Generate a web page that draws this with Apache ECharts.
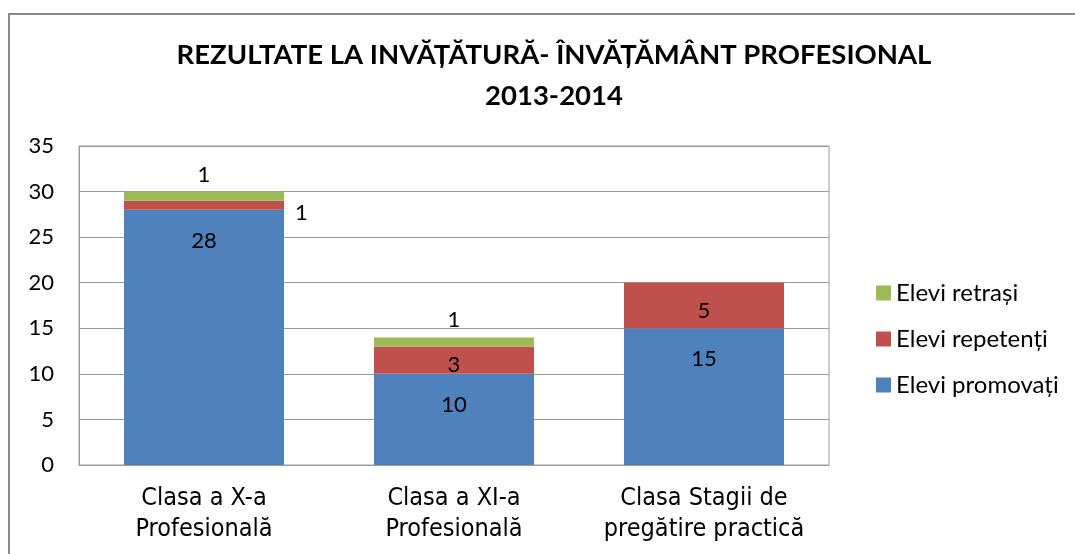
<!DOCTYPE html>
<html>
<head>
    <meta charset="utf-8">
    <title>Rezultate la invatatura</title>
    <style>
        html, body { margin: 0; padding: 0; background: #fff; }
        #container { width: 1075px; height: 554px; }
    </style>
</head>
<body>
<div id="container"></div>
<script src="https://cdn.jsdelivr.net/npm/echarts@6/dist/echarts.min.js"></script>
<script type="text/javascript">
    var categories = ['Clasa a X-a\nProfesională', 'Clasa a XI-a\nProfesională', 'Clasa Stagii de\npregătire practică'];
    var promovati = [28, 10, 15];
    var repetenti = [1, 3, 5];
    var retrasi = [1, 1, '-'];
    var yTicks = [0, 5, 10, 15, 20, 25, 30, 35];

    var labelFont = { fontFamily: 'Lato', fontSize: 22, color: '#000' };

    var myChart = echarts.init(document.getElementById('container'));

    var option = {
        animation: false,
        backgroundColor: '#fff',
        graphic: [{
            type: 'rect',
            shape: { x: 9, y: 14, width: 1080, height: 560 },
            style: { fill: 'none', stroke: '#8a8a8a', lineWidth: 2 },
            silent: true
        }],
        title: {
            text: 'REZULTATE LA INVĂȚĂTURĂ- ÎNVĂȚĂMÂNT PROFESIONAL\n2013-2014',
            left: 549,
            textAlign: 'center',
            top: 30,
            textStyle: {
                fontFamily: 'Lato',
                fontWeight: 'bold',
                fontSize: 27.5,
                lineHeight: 41,
                color: '#000'
            }
        },
        legend: {
            orient: 'vertical',
            left: 871,
            top: 275,
            itemWidth: 15,
            itemHeight: 15,
            itemGap: 20,
            icon: 'rect',
            data: ['Elevi retrași', 'Elevi repetenți', 'Elevi promovați'],
            textStyle: { fontFamily: 'Lato', fontSize: 24, color: '#000', padding: [0, 0, 0, 0], lineHeight: 26 }
        },
        grid: {
            left: 79,
            top: 146,
            width: 750,
            height: 319,
            show: true,
            borderColor: '#9a9a9a',
            borderWidth: 1
        },
        xAxis: {
            type: 'category',
            data: categories,
            axisTick: { show: false },
            axisLine: { lineStyle: { color: '#9a9a9a' } },
            axisLabel: {
                fontFamily: '"DejaVu Sans Condensed", Roboto, sans-serif',
                fontSize: 25,
                lineHeight: 31,
                color: '#000',
                margin: 18,
                interval: 0
            }
        },
        yAxis: {
            type: 'value',
            min: yTicks[0],
            max: yTicks[yTicks.length - 1],
            interval: 5,
            axisLine: { show: true, lineStyle: { color: '#9a9a9a' } },
            axisTick: { show: false },
            splitLine: { lineStyle: { color: '#9a9a9a' } },
            axisLabel: { fontFamily: 'Lato', fontSize: 22, color: '#000', margin: 25 }
        },
        series: [
            {
                name: 'Elevi promovați',
                type: 'bar',
                stack: 'total',
                barWidth: 160,
                data: promovati,
                itemStyle: { color: '#4f81bd' },
                label: Object.assign({ show: true, position: 'insideTop', distance: 20 }, labelFont)
            },
            {
                name: 'Elevi repetenți',
                type: 'bar',
                stack: 'total',
                data: repetenti.map(function (v, i) {
                    return i === 0 ? { value: v, label: { position: 'right', distance: 11, offset: [0, 8] } } : v;
                }),
                itemStyle: { color: '#c0504d' },
                label: Object.assign({ show: true, position: 'inside', offset: [0, 5] }, labelFont)
            },
            {
                name: 'Elevi retrași',
                type: 'bar',
                stack: 'total',
                data: retrasi,
                itemStyle: { color: '#9bbb59' },
                label: Object.assign({ show: true, position: 'top', distance: 6 }, labelFont)
            }
        ]
    };

    myChart.setOption(option);
</script>
</body>
</html>
